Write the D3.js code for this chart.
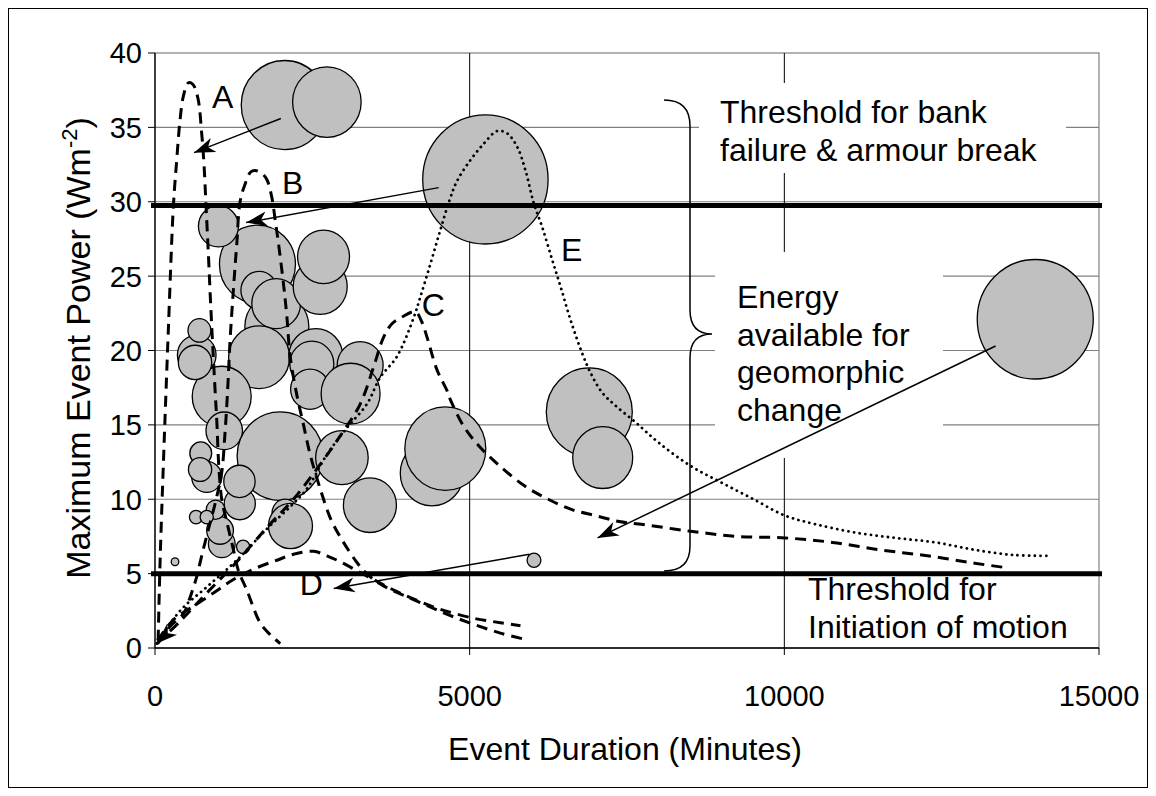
<!DOCTYPE html>
<html><head><meta charset="utf-8">
<script src="https://cdn.jsdelivr.net/npm/d3@7/dist/d3.min.js"></script>
<style>
body{margin:0;background:#fff}
svg{display:block}
text{font-family:"Liberation Sans",Arial,sans-serif;fill:#000}
</style></head>
<body><svg id="chart" width="1156" height="796"></svg>
<script>
// ---------- data ----------
const xTicks = [0, 5000, 10000, 15000];
const yTicks = [0, 5, 10, 15, 20, 25, 30, 35, 40];
const thresholds = [29.75, 5];

// bubbles (drawing order): duration (min), max power (W m-2), relative event size
const bubbleX = [2058, 2731, 5250, 13987, 6901, 7114, 1936, 1628, 1655, 1925, 1008, 2625, 2678, 1654, 2556, 2492, 2465, 3260, 3108, 1060, 1100, 663, 636, 706, 1988, 2970, 3415, 4401, 4613, 822, 727, 716, 1347, 1342, 2068, 2153, 1061, 1034, 962, 652, 822, 1400, 318, 6022];
const bubbleY = [36.5, 36.7, 31.5, 22.1, 15.86, 12.8, 21.6, 25.8, 24.05, 23.15, 28.35, 24.3, 26.3, 19.55, 19.6, 19.1, 17.4, 19.0, 17.1, 16.9, 14.6, 19.7, 19.2, 21.35, 12.9, 12.8, 9.6, 11.75, 13.4, 11.5, 13.1, 12.0, 9.7, 11.2, 9.1, 8.2, 7.0, 7.9, 9.3, 8.8, 8.8, 6.8, 5.8, 5.9];
const bubbleSize = [472, 296, 990, 848, 466, 227, 258, 364, 84, 149, 101, 184, 170, 234, 184, 122, 96, 133, 219, 219, 84, 94, 70, 33, 466, 174, 177, 253, 413, 57, 30, 34, 61, 62, 43, 122, 45, 45, 22, 11, 11, 11, 3.6, 12];

// hydrograph-type curves
const curveA = [[50,0.5],[80,5.7],[130,12],[212,21.4],[292,29.7],[345,32.8],[398,35.5],[451,37.1],[530,38.0],[600,37.9],[680,37.0],[742,34.6],[780,32.4],[811,29.7],[848,26.5],[880,23.5],[915,20.5],[955,17.3],[985,15.0],[1010,12.5],[1060,10.0],[1140,8.5],[1246,6.6],[1325,5.2],[1458,3.9],[1670,1.7],[1830,0.9],[1990,0.3]];
const curveB = [[40,0.3],[250,1.5],[451,2.3],[557,3.4],[663,4.8],[742,6.2],[850,8.0],[960,9.8],[1060,11.8],[1113,14.5],[1150,17.0],[1193,20.7],[1246,24.1],[1300,27.2],[1352,30.0],[1432,31.2],[1520,32.0],[1591,32.1],[1697,31.9],[1777,31.5],[1856,30.3],[1909,28.8],[1962,27.2],[2041,24.5],[2095,22.3],[2148,19.6],[2254,17.0],[2360,15.0],[2466,13.0],[2625,10.7],[2800,8.6],[2996,7.1],[3200,5.8],[3341,5.1],[3580,4.3],[4216,3.05],[4800,2.0],[5489,1.0],[5860,0.6]];
const curveC = [[30,0.3],[400,1.8],[800,3.6],[1300,5.8],[1800,8.2],[2200,10.0],[2600,12.2],[2950,14.3],[3261,16.4],[3474,18.9],[3633,20.9],[3765,21.8],[3924,22.25],[4136,22.6],[4242,21.9],[4322,20.9],[4481,18.7],[4640,17.3],[4693,16.7],[4906,14.9],[5144,13.6],[5436,12.4],[5872,10.9],[6248,10.0],[6625,9.3],[7001,8.9],[7377,8.5],[7754,8.3],[8507,7.85],[9260,7.5],[10012,7.4],[10765,7.1],[11518,6.6],[12271,6.2],[13024,5.7],[13526,5.4]];
const curveD = [[40,0.5],[292,1.9],[610,2.8],[928,3.7],[1246,4.6],[1564,5.3],[1936,5.9],[2201,6.3],[2519,6.5],[2731,6.2],[2943,5.8],[3208,5.2],[3473,4.6],[3792,3.9],[4163,3.2],[4534,2.6],[5064,2.0],[5489,1.7],[5807,1.5]];
const curveE = [[30,0.3],[398,2.5],[822,4.1],[1299,5.9],[1776,8.0],[2148,9.5],[2413,10.7],[2731,13.0],[3049,14.8],[3367,16.4],[3580,18.2],[3845,19.6],[4110,22.2],[4216,23.6],[4375,25.8],[4534,28.1],[4680,30.1],[4800,31.4],[5012,32.8],[5223,33.9],[5436,34.75],[5595,34.6],[5754,33.7],[5887,32.1],[6019,29.9],[6152,28.3],[6311,26.1],[6444,24.3],[6603,22.05],[6789,19.8],[6921,18.5],[7100,17.2],[7315,16.3],[7628,15.2],[8005,13.8],[8507,12.25],[9009,11.1],[9511,10.0],[10012,8.9],[10514,8.3],[11142,7.75],[11769,7.4],[12397,7.1],[13024,6.6],[13652,6.25],[14200,6.2]];

const curveLabels = ["A", "B", "C", "D", "E"];
const labelX = [1074, 2188, 4423, 2482, 6619];
const labelY = [37.1, 31.3, 23.1, 4.37, 26.8];

const arrowFrom = [[2000,35.6],[4508,30.95],[5950,6.3],[13357,20.3]];
const arrowTo   = [[620,33.3],[1448,28.6],[2840,4.0],[7032,7.4]];

// ---------- drawing ----------
const svg = d3.select("#chart");
const x = d3.scaleLinear().domain([0, 15000]).range([155, 1099]);
const y = d3.scaleLinear().domain([0, 40]).range([648, 53]);
const r = d3.scaleSqrt().domain([0, 1000]).range([0, 63]);
const FS = 29;      // tick labels
const FT = 32;      // titles / annotations

// outer frame
svg.append("rect").attr("x", 8.5).attr("y", 8.5).attr("width", 1139).attr("height", 779)
  .attr("fill", "none").attr("stroke", "#000").attr("stroke-width", 1);

// plot border
svg.append("rect").attr("x", x(0)).attr("y", y(40)).attr("width", x(15000) - x(0)).attr("height", y(0) - y(40))
  .attr("fill", "none").attr("stroke", "#808080").attr("stroke-width", 1.2);

// gridlines
svg.append("g").selectAll("line").data(yTicks.filter(d => d > 0 && d < 40)).join("line")
  .attr("x1", x(0)).attr("x2", x(15000)).attr("y1", d => y(d)).attr("y2", d => y(d))
  .attr("stroke", "#808080").attr("stroke-width", 1.2);
svg.append("g").selectAll("line").data(xTicks.filter(d => d > 0 && d < 15000)).join("line")
  .attr("x1", d => x(d)).attr("x2", d => x(d)).attr("y1", y(40)).attr("y2", y(0))
  .attr("stroke", "#000").attr("stroke-width", 1);

// white text backgrounds (cover gridlines)
const boxes = [[699, 83, 367, 90], [715, 252, 228, 206], [800, 576, 290, 66]];
svg.append("g").selectAll("rect").data(boxes).join("rect")
  .attr("x", d => d[0]).attr("y", d => d[1]).attr("width", d => d[2]).attr("height", d => d[3])
  .attr("fill", "#fff");

// bubbles
const bubbles = bubbleX.map((v, i) => ({x: v, y: bubbleY[i], s: bubbleSize[i]}));
svg.append("g").selectAll("ellipse").data(bubbles).join("ellipse")
  .attr("cx", d => x(d.x)).attr("cy", d => y(d.y))
  .attr("rx", d => r(d.s)).attr("ry", d => r(d.s) * 1.03)
  .attr("fill", "#c0c0c0").attr("stroke", "#000").attr("stroke-width", 1.3);

// axes
const axisG = svg.append("g");
axisG.append("line").attr("x1", x(0)).attr("x2", x(0)).attr("y1", y(40)).attr("y2", y(0)).attr("stroke", "#000").attr("stroke-width", 1.3);
axisG.append("line").attr("x1", x(0)).attr("x2", x(15000)).attr("y1", y(0)).attr("y2", y(0)).attr("stroke", "#000").attr("stroke-width", 1.3);
axisG.selectAll(".yt").data(yTicks).join("line").attr("class", "yt")
  .attr("x1", x(0) - 7).attr("x2", x(0)).attr("y1", d => y(d)).attr("y2", d => y(d)).attr("stroke", "#000");
axisG.selectAll(".xt").data(xTicks).join("line").attr("class", "xt")
  .attr("x1", d => x(d)).attr("x2", d => x(d)).attr("y1", y(0)).attr("y2", y(0) + 7).attr("stroke", "#000");
axisG.selectAll(".yl").data(yTicks).join("text").attr("class", "yl")
  .attr("x", x(0) - 13).attr("y", d => y(d)).attr("dy", "0.36em")
  .attr("text-anchor", "end").attr("font-size", FS).text(d => d);
axisG.selectAll(".xl").data(xTicks).join("text").attr("class", "xl")
  .attr("x", d => x(d)).attr("y", y(0) + 58)
  .attr("text-anchor", "middle").attr("font-size", FS).text(d => d);

// axis titles
svg.append("text").attr("x", x(7500) - 2).attr("y", 760).attr("text-anchor", "middle")
  .attr("font-size", FT).text("Event Duration (Minutes)");
const yt = svg.append("text").attr("transform", "translate(90,348) rotate(-90)")
  .attr("text-anchor", "middle").attr("font-size", 34);
yt.append("tspan").text("Maximum Event Power (Wm");
yt.append("tspan").attr("dy", -13).attr("font-size", 22).text("-2");
yt.append("tspan").attr("dy", 13).text(")");

// curves
const line = d3.line().x(d => x(d[0])).y(d => y(d[1])).curve(d3.curveCatmullRom.alpha(0.5));
const defs = svg.append("defs");
defs.append("marker").attr("id", "ah").attr("viewBox", "-21 -8 22 16")
  .attr("markerWidth", 22).attr("markerHeight", 16).attr("markerUnits", "userSpaceOnUse")
  .attr("refX", 0).attr("refY", 0).attr("orient", "auto-start-reverse")
  .append("path").attr("d", "M0,0 L-21,-7.5 L-15,0 L-21,7.5 Z").attr("fill", "#000");

const dashed = [curveA, curveB, curveD];
svg.append("g").selectAll("path").data(dashed).join("path")
  .attr("d", line).attr("fill", "none").attr("stroke", "#000")
  .attr("stroke-width", 3).attr("stroke-dasharray", "11,7");
svg.append("path").datum(curveC).attr("d", line).attr("fill", "none").attr("stroke", "#000")
  .attr("stroke-width", 3).attr("stroke-dasharray", "11,7").attr("marker-start", "url(#ah)");
svg.append("path").datum(curveE).attr("d", line).attr("fill", "none").attr("stroke", "#000")
  .attr("stroke-width", 2.8).attr("stroke-linecap", "round").attr("stroke-dasharray", "0.1,5.6");

// threshold lines
svg.append("g").selectAll("line").data(thresholds).join("line")
  .attr("x1", x(0) - 4).attr("x2", x(15000) + 3).attr("y1", d => y(d)).attr("y2", d => y(d))
  .attr("stroke", "#000").attr("stroke-width", 5);

// annotation arrows
svg.append("g").selectAll("line").data(arrowFrom).join("line")
  .attr("x1", d => x(d[0])).attr("y1", d => y(d[1]))
  .attr("x2", (d, i) => x(arrowTo[i][0])).attr("y2", (d, i) => y(arrowTo[i][1]))
  .attr("stroke", "#000").attr("stroke-width", 1.5).attr("marker-end", "url(#ah)");

// curve labels
svg.append("g").selectAll("text").data(curveLabels).join("text")
  .attr("x", (d, i) => x(labelX[i])).attr("y", (d, i) => y(labelY[i])).attr("dy", "0.36em")
  .attr("text-anchor", "middle").attr("font-size", FT).text(d => d);

// curly brace
svg.append("path")
  .attr("d", "M664,100 Q690,100 690,126 L690,310 Q690,334 712,334 Q690,334 690,358 L690,546 Q690,571 664,571")
  .attr("fill", "none").attr("stroke", "#000").attr("stroke-width", 1.5);

// annotation texts
const notes = [
  {x: 720, y: 123, lines: ["Threshold for bank", "failure & armour break"]},
  {x: 737, y: 308, lines: ["Energy", "available for", "geomorphic", "change"]},
  {x: 808, y: 600, lines: ["Threshold for", "Initiation of motion"]}
];
notes.forEach(n => {
  const t = svg.append("text").attr("font-size", FT);
  n.lines.forEach((l, i) => t.append("tspan").attr("x", n.x).attr("y", n.y + i * 37.7).text(l));
});
</script></body></html>
